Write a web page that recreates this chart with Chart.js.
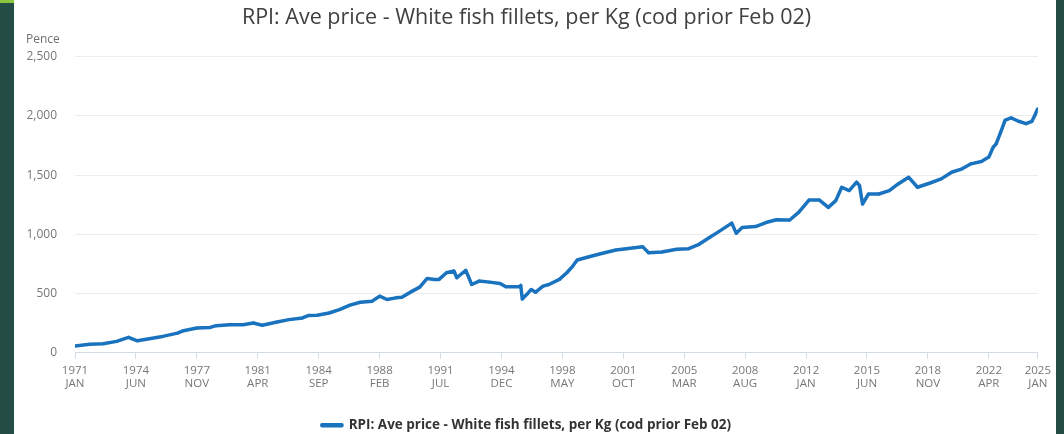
<!DOCTYPE html>
<html>
<head>
<meta charset="utf-8">
<script src="https://cdn.jsdelivr.net/npm/chart.js@4/dist/chart.umd.min.js"></script>
<style>
  html, body { margin: 0; padding: 0; background: #244e45; }
  .frame { position: absolute; left: 14px; top: 0; width: 1042px; height: 434px; background: #fff; }
  .corner { position: absolute; left: 0; top: 0; width: 14px; height: 3px; background: #8cc63f; }
</style>
</head>
<body>
<div class="corner"></div>
<div class="frame"><canvas id="myChart" width="1042" height="434"></canvas></div>
<script>
// months counted from Jan 1971
const months = [
  0, 10, 19, 28, 36, 42, 50, 59, 69, 73, 82, 91, 95, 104, 113, 120, 126, 136,
  144, 153, 157, 163, 171, 178, 185, 192, 200, 205, 210, 216, 220, 227, 232,
  237, 242, 245, 250, 255, 257, 261, 263, 267, 272, 279, 286, 290, 299, 300,
  301, 304, 307, 310, 315, 319, 326, 331, 335, 338, 346, 355, 364, 371, 382,
  386, 395, 405, 413, 420, 427, 433, 442, 445, 449, 458, 465, 472, 481, 487,
  494, 501, 507, 512, 516, 521, 526, 528, 530, 534, 541, 548, 554, 561, 567,
  575, 583, 590, 597, 603, 610, 615, 618, 620, 623, 626, 630, 635, 640, 644,
  646, 648,
];

const pence = [
  55, 70, 74, 94, 128, 99, 116, 136, 164, 184, 207, 212, 227, 235, 235, 249,
  230, 258, 278, 292, 312, 315, 334, 363, 400, 425, 434, 476, 448, 462, 468,
  519, 553, 626, 618, 618, 674, 689, 632, 674, 694, 575, 604, 595, 584, 555,
  555, 567, 453, 490, 533, 510, 561, 575, 618, 674, 731, 782, 810, 839, 867,
  878, 895, 844, 850, 873, 878, 915, 972, 1020, 1094, 1009, 1057, 1065, 1099,
  1122, 1120, 1184, 1289, 1289, 1227, 1284, 1397, 1369, 1440, 1411, 1255,
  1340, 1340, 1369, 1425, 1482, 1397, 1431, 1468, 1524, 1553, 1595, 1615,
  1652, 1737, 1765, 1864, 1964, 1983, 1955, 1935, 1955, 2006, 2063,
];

const tickMonths = [0, 41, 82, 123, 164, 205, 246, 287, 328, 369, 410, 451, 492, 533, 574, 615, 648];
const tickLabels = [
  ["1971", "JAN"], ["1974", "JUN"], ["1977", "NOV"], ["1981", "APR"],
  ["1984", "SEP"], ["1988", "FEB"], ["1991", "JUL"], ["1994", "DEC"],
  ["1998", "MAY"], ["2001", "OCT"], ["2005", "MAR"], ["2008", "AUG"],
  ["2012", "JAN"], ["2015", "JUN"], ["2018", "NOV"], ["2022", "APR"],
  ["2025", "JAN"],
];

const seriesName = "RPI: Ave price - White fish fillets, per Kg (cod prior Feb 02)";
const blue = "#1a73bf";

Chart.defaults.font.family = "'Open Sans', sans-serif";

// unit label above the y axis
const unitLabel = {
  id: "unitLabel",
  afterDraw(chart) {
    const c = chart.ctx;
    c.save();
    c.font = "12px 'Open Sans', sans-serif";
    c.fillStyle = "#707070";
    c.textBaseline = "middle";
    c.fillText("Pence", 12, 40);
    c.restore();
  },
};

const ctx = document.querySelector("#myChart").getContext("2d");

const myChart = new Chart(ctx, {
  type: "line",
  data: {
    datasets: [
      {
        label: seriesName,
        data: months.map((m, i) => ({ x: m, y: pence[i] })),
        borderColor: blue,
        backgroundColor: blue,
        borderWidth: 3.5,
        borderJoinStyle: "round",
        pointRadius: 1.5,
        pointBorderWidth: 0,
        pointBackgroundColor: blue,
        tension: 0,
      },
    ],
  },
  options: {
    responsive: false,
    animation: false,
    layout: { padding: { left: 0, right: 17, top: 0, bottom: -8 } },
    plugins: {
      title: {
        display: true,
        text: seriesName,
        color: "#414042",
        font: { size: 21.5, weight: "normal" },
        padding: { top: 5, bottom: 26 },
      },
      legend: {
        position: "bottom",
        labels: {
          color: "#333",
          font: { size: 13.5, weight: "bold" },
          boxWidth: 20,
          boxHeight: 1,
          padding: 12,
        },
      },
      tooltip: { enabled: false },
    },
    scales: {
      x: {
        type: "linear",
        min: 0,
        max: 648,
        afterBuildTicks: (scale) => {
          scale.ticks = tickMonths.map((v) => ({ value: v }));
        },
        afterFit: (scale) => {
          scale.height = 54;
        },
        ticks: {
          autoSkip: false,
          maxRotation: 0,
          color: "#777",
          font: { size: 11.5 },
          padding: 5,
          callback: (val) => tickLabels[tickMonths.indexOf(val)],
        },
        grid: { drawOnChartArea: false, drawTicks: true, tickLength: 6, color: "#d3dbe4" },
        border: { display: true, color: "#d3dbe4", width: 1 },
      },
      y: {
        min: 0,
        max: 2500,
        afterFit: (scale) => {
          scale.width = 61;
        },
        ticks: {
          stepSize: 500,
          color: "#777",
          font: { size: 12 },
          padding: 18,
          callback: (val) => val.toLocaleString("en-GB"),
        },
        grid: { color: "#ececec", drawTicks: false },
        border: { display: false },
      },
    },
  },
  plugins: [unitLabel],
});
</script>
</body>
</html>
